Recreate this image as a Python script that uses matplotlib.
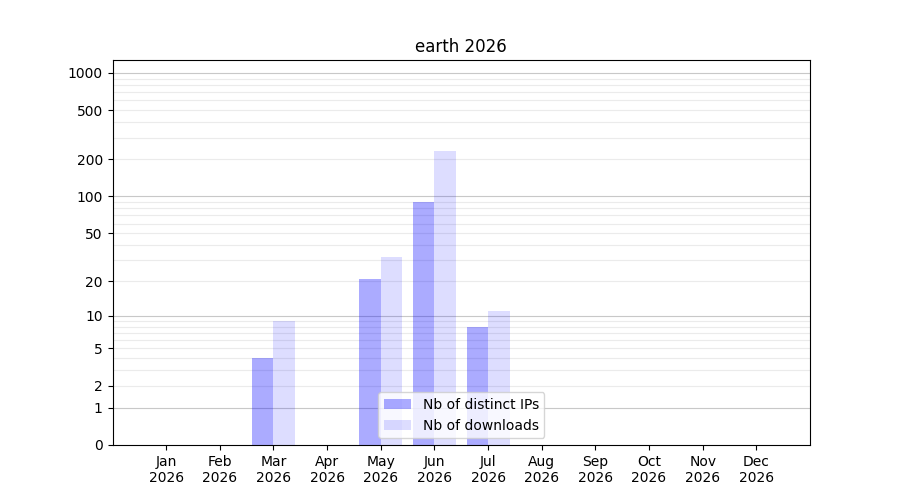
import numpy as np
import matplotlib
matplotlib.use('Agg')
import matplotlib.pyplot as plt

# donnees
months = ['Jan', 'Feb', 'Mar', 'Apr', 'May', 'Jun', 'Jul', 'Aug', 'Sep', 'Oct', 'Nov', 'Dec']
year = 2026
distinct_ips = [0, 0, 4, 0, 21, 90, 8, 0, 0, 0, 0, 0]
downloads = [0, 0, 9, 0, 32, 234, 11, 0, 0, 0, 0, 0]
ytick_values = [0, 1, 2, 5, 10, 20, 50, 100, 200, 500, 1000]


def forward(y):
    return np.log10(1 + np.maximum(y, 0))


def inverse(y):
    return 10 ** y - 1


fig, ax = plt.subplots(figsize=(9, 5), dpi=100)
ax.set_yscale('function', functions=(forward, inverse))

# grille : lignes fortes aux decades, claires entre les deux
for dec in [1, 10, 100]:
    for m in range(2, 10):
        ax.axhline(dec * m, color='#ebebeb', lw=0.8, zorder=0)
for dec in [1, 10, 100, 1000]:
    ax.axhline(dec, color='#c8c8c8', lw=0.8, zorder=0)

x = np.arange(len(months))
w = 0.4
ax.bar(x - w / 2, distinct_ips, width=w, color='blue', alpha=0.33, label='Nb of distinct IPs', zorder=2)
ax.bar(x + w / 2, downloads, width=w, color='blue', alpha=0.135, label='Nb of downloads', zorder=2)

ax.set_xticks(x)
ax.set_xticklabels([f'{m}\n{year}' for m in months])
ax.set_xlim(-1, 12)

ax.set_yticks(ytick_values)
ax.set_yticklabels([str(v) for v in ytick_values])
ax.minorticks_off()
ax.set_ylim(0, 1270)

ax.set_title(f'earth {year}')
ax.legend(loc='lower center')

plt.savefig('out.png')
